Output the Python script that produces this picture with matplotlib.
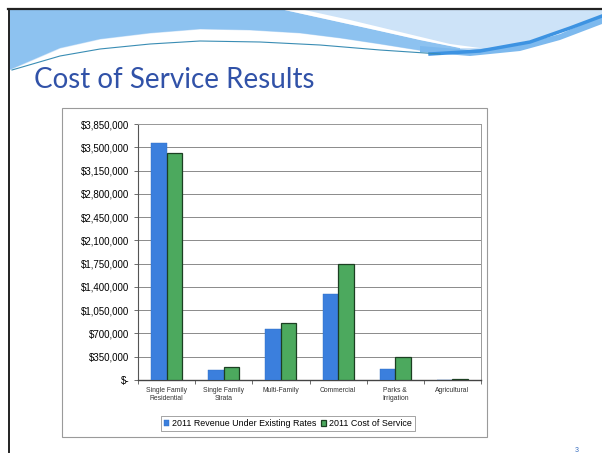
"""
Cost of Service Results - slide recreation
Run: python plot.py
"""
import numpy as np
import matplotlib
matplotlib.use('Agg')
import matplotlib.pyplot as plt
import matplotlib.patches as mpatches
from matplotlib.ticker import FuncFormatter, MultipleLocator

plt.rcParams.update({'font.family': 'Liberation Sans', 'font.size': 6.5})

# ── data ────────────────────────────────────────────────────────────────
categories = ['Single Family\nResidential', 'Single Family\nStrata', 'Multi-Family',
              'Commercial', 'Parks &\nIrrigation', 'Agricultural']
revenue_2011 = [3560000, 150000, 760000, 1300000, 165000, 3000]
cost_2011 = [3410000, 195000, 860000, 1740000, 340000, 15000]
series_names = ['2011 Revenue Under Existing Rates', '2011 Cost of Service']

BLUE = '#3B7FDD'
GREEN = '#4CA95E'
TITLE_C = '#3152A8'

W, H = 602, 457
fig = plt.figure(figsize=(W/100, H/100), dpi=100)

# ── slide background (pixel coords) ─────────────────────────────────────
bg = fig.add_axes([0, 0, 1, 1], zorder=0)
bg.set_xlim(0, W); bg.set_ylim(H, 0); bg.axis('off')

# header: pale band down to lower curve
lx = np.array([9, 60, 100, 150, 200, 250, 300, 340, 380, 430, 480, 530, 580, 602])
ly = np.array([70, 48, 39, 33, 29, 30, 33, 38, 44, 52, 50, 40, 24, 14])
bg.fill_between(lx, 9, ly, color='#CDE3F8', lw=0, zorder=1)
# medium blue under the white swoosh
sw_lo_x = [280, 330, 380, 420, 460]
sw_lo_y = [9, 20, 31, 40, 48]
low_x = [460, 430, 380, 340, 300, 250, 200, 150, 100, 60, 9]
low_y = [51, 52, 44, 38, 33, 30, 29, 33, 39, 48, 70]
bg.fill([9] + sw_lo_x + low_x, [9] + sw_lo_y + low_y, color='#8DC2F0', lw=0, zorder=2)
# white swoosh
bg.fill([280, 300, 350, 400, 450, 480, 460, 420, 380, 330],
        [9, 9, 20, 32, 44, 48, 48, 40, 31, 20], color='white', lw=0, zorder=3)
# darker streak on the right
bg.fill([420, 470, 520, 560, 602, 602, 560, 520, 470, 420],
        [46, 50, 45, 34, 16, 24, 40, 51, 56, 52], color='#7DB9EE', lw=0, zorder=3)
bg.plot([430, 480, 530, 570, 602], [54, 51, 42, 28, 16], color='#3D93E2', lw=2.5, zorder=4)
# thin teal line
bg.plot([12, 60, 100, 150, 200, 260, 320, 380, 440], [70, 56, 49, 44, 41, 42, 45, 50, 54],
        color='#3A8DB4', lw=0.8, zorder=4)

# slide frame
bg.plot([8.5, 8.5], [9, 452], color='#222222', lw=1.4, zorder=5)
bg.plot([8, W], [8.5, 8.5], color='#222222', lw=1.6, zorder=5)

bg.text(34, 80, 'Cost of Service Results', fontsize=20, color=TITLE_C,
        family='Lato', va='center', ha='left', zorder=6)
bg.text(577, 450, '3', fontsize=5, color='#3A6FC0', ha='center', va='center')

# chart box
bg.add_patch(mpatches.Rectangle((62, 108), 425, 329, facecolor='white',
                                edgecolor='#9A9A9A', lw=0.8, zorder=5))

# ── bar chart ────────────────────────────────────────────────────────────
ax = fig.add_axes([138/W, 1-380/H, (481-138)/W, (380-124)/H], zorder=2)
x = np.arange(len(categories))
bw = 0.27
ax.bar(x - bw/2, revenue_2011, bw, color=BLUE, edgecolor='#2F6CC4', lw=0.3,
       label=series_names[0], zorder=3)
ax.bar(x + bw/2, cost_2011, bw, color=GREEN, edgecolor='#1C3F22', lw=0.9,
       label=series_names[1], zorder=3)

ax.set_xlim(-0.5, len(categories) - 0.5)
ax.set_ylim(0, 3850000)
ax.yaxis.set_major_locator(MultipleLocator(350000))
ax.yaxis.set_major_formatter(FuncFormatter(lambda v, _: '$-' if v == 0 else f'${v:,.0f}'))
ax.grid(axis='y', color='#8A8A8A', lw=0.7, zorder=0)
ax.set_axisbelow(True)

ax.set_xticks(x)
ax.set_xticklabels(categories, fontsize=4.9, color='#333333', linespacing=1.3)
ax.set_xticks(np.arange(-0.5, len(categories)), minor=True)
ax.tick_params(axis='x', which='major', length=0, pad=5)
ax.tick_params(axis='x', which='minor', length=3, width=0.6, color='#555555')
ax.tick_params(axis='y', length=3, width=0.6, color='#555555', labelsize=7, pad=3)

for s in ['top', 'right']:
    ax.spines[s].set_color('#9A9A9A'); ax.spines[s].set_linewidth(0.7)
ax.spines['left'].set_color('#555555'); ax.spines['left'].set_linewidth(0.8)
ax.spines['bottom'].set_color('#444444'); ax.spines['bottom'].set_linewidth(1.0)

leg = fig.legend(loc='center', bbox_to_anchor=(288/W, 1-423.5/H), ncol=2,
                 fontsize=6.4, frameon=True, fancybox=False, edgecolor='#7A7A7A',
                 handlelength=0.6, handleheight=0.6, handletextpad=0.3,
                 columnspacing=0.5, borderpad=0.35, borderaxespad=0)
leg.get_frame().set_linewidth(0.6)
leg.set_zorder(6)

fig.savefig('out.png', dpi=100)
